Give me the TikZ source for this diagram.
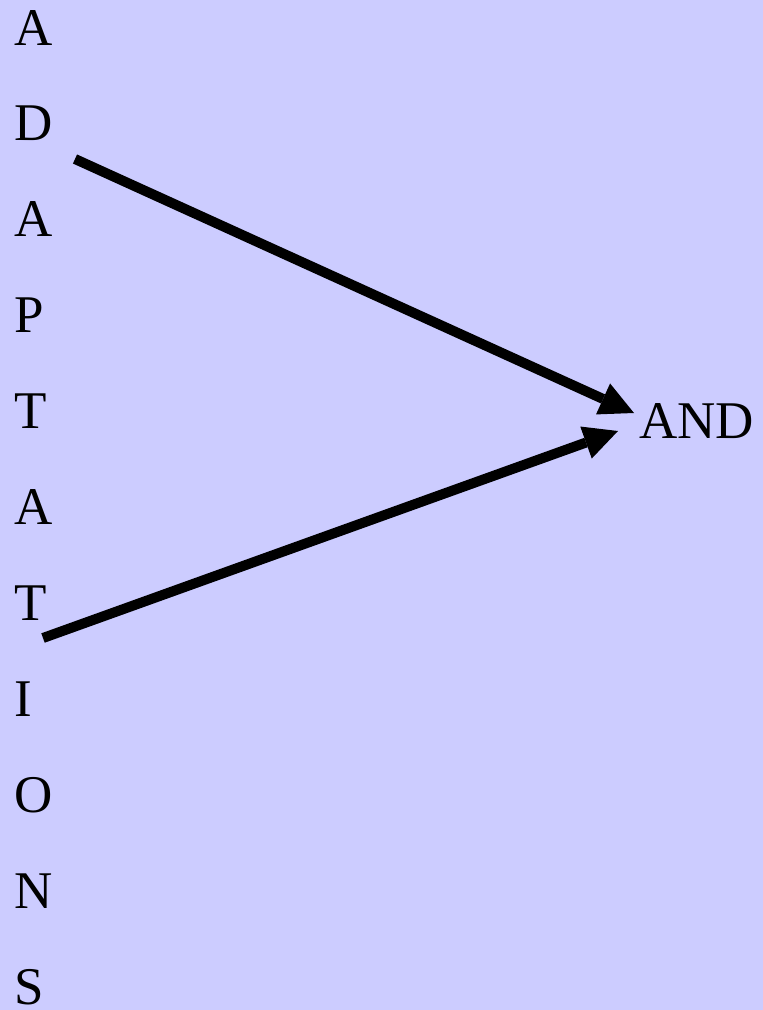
\documentclass[tikz,border=0pt]{standalone}
\usepackage{fontspec}
\setmainfont{Liberation Serif}
\usepackage{tikz}
\usetikzlibrary{arrows.meta}
\definecolor{lav}{HTML}{CCCCFF}
\tikzset{
  letter/.style={anchor=base west,inner sep=0pt,font=\fontsize{53}{60}\selectfont},
  bigarrow/.style={line width=10pt,-{Triangle[length=34pt,width=34pt,line width=0pt]}}
}

\begin{document}
\begin{tikzpicture}[x=1pt,y=-1pt]
\fill[lav] (0,0) rectangle (763,1010);
\useasboundingbox (0,0) rectangle (763,1010);
\foreach \ch [count=\i from 0] in {A,D,A,P,T,A,T,I,O,N,S}
  \node[letter] (l\i) at (14,{45+95.9*\i}) {\ch};
\node[letter] (and) at (639,438) {AND};
\coordinate (tailD) at (75,159);
\coordinate (tailT) at (43,638);
\coordinate (tipD) at (634,413);
\coordinate (tipT) at (618,431);
\draw[bigarrow] (tailD) -- (tipD);
\draw[bigarrow] (tailT) -- (tipT);
\end{tikzpicture}
\end{document}
